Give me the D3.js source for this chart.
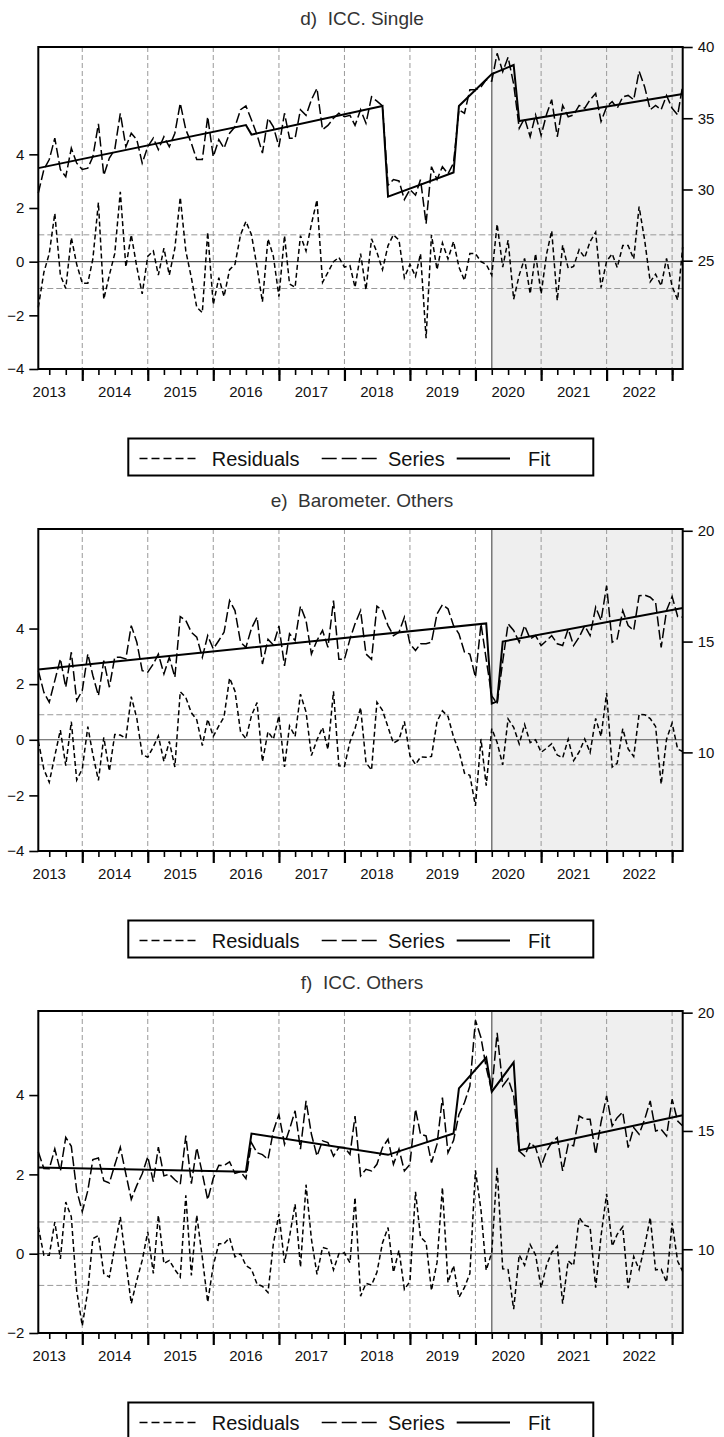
<!DOCTYPE html>
<html>
<head>
<meta charset="utf-8">
<script src="https://cdn.jsdelivr.net/npm/d3@7"></script>
<style>
  body { margin: 0; background: #fff; }
  svg { display: block; font-family: "Liberation Sans", Arial, sans-serif; }
</style>
</head>
<body>
<svg id="chart" width="724" height="1437"></svg>
<script>
// --------------- Data ---------------
// monthly observations, May 2013 .. Mar 2023
const START = new Date(2013, 4, 1);
const months = d3.timeMonth.range(START, new Date(2023, 3, 1));
const SHADE_START = new Date(2020, 3, 1);
const YEARS = d3.range(2013, 2023);

const titles = ["d)  ICC. Single", "e)  Barometer. Others", "f)  ICC. Others"];
const legendLabels = ["Residuals", "Series", "Fit"];

// d) ICC. Single
const dSeries = [29.74, 31.4, 32.1, 33.6, 31.4, 30.9, 32.9, 31.85, 31.4, 31.5,
  32.3, 34.6, 31.0, 32.2, 32.8, 35.35, 33.0, 33.95, 33.5, 31.85,
  33.0, 33.6, 32.8, 33.7, 33.0, 33.95, 36.05, 34.2, 33.25, 32.1,
  32.1, 35.1, 32.3, 33.5, 32.9, 33.95, 34.4, 35.6, 35.86, 34.88,
  33.83, 32.55, 35.0, 34.4, 33.0, 35.35, 33.6, 33.6, 35.6, 35.2,
  36.3, 37.1, 34.2, 34.5, 35.0, 35.35, 35.1, 35.2, 34.5, 35.6,
  34.65, 36.5, 36.2, 35.86, 30.3, 30.7, 30.6, 29.3, 30.0, 29.6,
  30.7, 27.6, 31.6, 30.7, 31.6, 31.1, 31.85, 35.6, 35.35, 37.0,
  37.0, 37.2, 37.7, 37.6, 39.56, 38.27, 39.28, 37.4, 34.3, 35.0,
  33.7, 35.23, 33.8, 35.3, 36.3, 33.7, 35.9, 35.1, 35.23, 35.9,
  35.7, 36.3, 36.75, 34.77, 35.8, 36.17, 35.7, 36.5, 36.6, 36.3,
  38.3, 37.2, 35.6, 35.9, 35.6, 36.6, 35.7, 35.23, 37.3];
const dResid = [-1.7, -0.4, 0.3, 1.8, -0.5, -1.0, 0.9, -0.1, -0.8, -0.8,
  0.1, 2.2, -1.4, -0.5, 0.3, 2.6, -0.2, 1.0, -0.2, -1.2,
  0.2, 0.4, -0.5, 0.5, -0.5, 0.5, 2.4, 0.4, -0.6, -1.7,
  -1.9, 1.1, -1.6, -0.6, -1.3, -0.3, -0.1, 1.0, 1.5, 1.0,
  -0.2, -1.5, 0.85, 0.2, -1.3, 0.97, -0.83, -0.96, 0.97, 0.4,
  1.4, 2.3, -0.77, -0.4, 0.0, 0.16, -0.2, -0.15, -0.96, 0.3,
  -1.05, 0.85, 0.35, -0.3, 0.6, 1.0, 0.8, -0.6, -0.1, -0.55,
  0.3, -2.85, 1.0, -0.3, 0.7, 0.1, 0.75, -0.2, -0.7, 0.3,
  0.3, 0.0, -0.1, -0.5, 1.4, -0.2, 0.8, -1.4, -0.5, 0.12,
  -1.2, 0.3, -1.2, 0.3, 1.15, -1.45, 0.62, -0.25, -0.18, 0.45,
  0.15, 0.75, 1.1, -0.97, 0.02, 0.29, -0.22, 0.6, 0.6, 0.1,
  2.05, 0.8, -0.75, -0.47, -0.9, 0.12, -0.92, -1.43, 0.55];
const dFitIdx = [0, 38, 39, 63, 64, 76, 77, 83, 87, 88, 118];
const dFitVal = [31.5, 34.52, 33.85, 35.86, 29.5, 31.19, 35.86, 38.1, 38.74, 34.8, 36.7];

// e) Barometer. Others
const eSeries = [13.69, 12.71, 12.26, 13.24, 14.22, 12.94, 14.52, 12.34, 12.79, 14.44,
  13.47, 12.56, 14.14, 12.94, 14.29, 14.29, 14.22, 15.72, 14.97, 13.69,
  13.62, 13.99, 14.44, 13.54, 14.29, 13.39, 16.13, 15.95, 15.42, 15.2,
  14.29, 15.27, 14.67, 15.05, 15.42, 16.85, 16.4, 14.97, 14.74, 15.6,
  16.1, 13.99, 15.1, 14.85, 15.7, 13.9, 15.35, 15.05, 16.6, 15.95,
  14.44, 15.05, 15.5, 14.74, 16.85, 14.2, 14.2, 15.12, 15.8, 16.4,
  14.44, 14.2, 16.6, 16.4, 15.72, 15.27, 15.42, 16.1, 14.9, 14.6,
  14.9, 14.9, 14.97, 16.25, 16.66, 16.48, 15.72, 15.35, 14.52, 14.44,
  13.39, 15.8, 14.2, 12.55, 12.2, 14.1, 15.8, 15.5, 14.97, 15.72,
  15.12, 15.27, 14.82, 15.05, 15.27, 14.9, 14.82, 15.57, 14.82, 15.2,
  15.72, 15.27, 16.55, 15.95, 17.52, 14.97, 15.12, 16.4, 15.72, 15.5,
  17.07, 17.1, 17.0, 16.77, 14.74, 16.4, 17.03, 16.13, 16.1];
const eResid = [-0.05, -1.06, -1.53, -0.58, 0.35, -0.93, 0.65, -1.45, -1.05, 0.47,
  -0.53, -1.46, 0.09, -1.13, 0.19, 0.17, 0.05, 1.55, 0.77, -0.53,
  -0.63, -0.25, 0.14, -0.78, -0.06, -0.98, 1.73, 1.52, 0.97, 0.72,
  -0.21, 0.74, 0.12, 0.5, 0.82, 2.22, 1.75, 0.29, 0.04, 0.87,
  1.34, -0.79, 0.29, 0.02, 0.86, -0.98, 0.5, 0.12, 1.64, 1.0,
  -0.57, 0.0, 0.44, -0.35, 1.74, -0.94, -0.96, -0.07, 0.4, 1.16,
  -0.82, -1.09, 1.35, 1.06, 0.45, -0.12, 0.0, 0.66, -0.57, -0.89,
  -0.62, -0.63, -0.6, 0.66, 1.04, 0.84, 0.1, -0.4, -1.2, -1.28,
  -2.38, 0.03, -1.65, 0.4, -0.1, -0.9, 0.75, 0.45, -0.15, 0.55,
  -0.1, 0.0, -0.45, -0.3, -0.14, -0.55, -0.65, 0.02, -0.75, -0.44,
  0.03, -0.46, 0.77, 0.12, 1.68, -0.98, -0.84, 0.4, -0.33, -0.6,
  0.92, 0.9, 0.76, 0.48, -1.6, 0.02, 0.6, -0.34, -0.42];
const eFitIdx = [0, 82, 83, 84, 85, 118];
const eFitVal = [13.74, 15.82, 12.2, 12.3, 15.0, 16.52];

// f) ICC. Others
const fSeries = [14.12, 13.41, 13.4, 14.24, 13.3, 14.73, 14.35, 12.49, 11.59, 12.48,
  13.79, 13.86, 12.9, 12.8, 13.56, 14.31, 13.18, 12.11, 12.7, 13.19,
  13.91, 12.86, 14.32, 13.1, 13.17, 12.94, 12.74, 14.8, 12.77, 14.29,
  13.21, 12.09, 13.0, 13.55, 13.54, 13.69, 13.21, 13.28, 12.98, 14.5,
  14.08, 14.0, 13.8, 15.0, 15.7, 14.44, 15.07, 15.85, 14.23, 16.27,
  14.86, 13.94, 14.58, 14.51, 13.94, 14.3, 14.3, 14.01, 15.63, 13.1,
  13.38, 13.31, 13.59, 14.3, 14.65, 13.59, 14.23, 13.31, 13.59, 15.92,
  14.86, 14.79, 13.66, 14.44, 16.41, 14.08, 14.6, 15.7, 16.2, 16.9,
  19.68, 18.94, 17.68, 16.69, 19.15, 16.9, 17.2, 16.5, 14.15, 13.94,
  14.51, 14.3, 13.52, 14.15, 14.51, 14.72, 13.31, 14.44, 14.37, 15.63,
  15.49, 15.49, 14.01, 15.37, 16.48, 15.21, 15.56, 15.8, 14.3, 15.14,
  14.86, 15.49, 16.27, 15.0, 15.07, 14.79, 16.34, 15.42, 15.21];
const fResid = [0.67, -0.04, -0.04, 0.8, -0.13, 1.3, 0.93, -0.93, -1.82, -0.93,
  0.38, 0.46, -0.5, -0.59, 0.17, 0.93, -0.2, -1.26, -0.67, -0.17,
  0.55, -0.5, 0.97, -0.25, -0.17, -0.4, -0.59, 1.47, -0.55, 0.97,
  -0.1, -1.22, -0.3, 0.25, 0.25, 0.4, -0.08, 0.0, -0.3, -0.39,
  -0.77, -0.82, -0.98, 0.25, 1.0, -0.23, 0.43, 1.25, -0.34, 1.74,
  0.37, -0.52, 0.16, 0.12, -0.41, 0.0, 0.02, -0.23, 1.42, -1.07,
  -0.75, -0.79, -0.47, 0.27, 0.66, -0.47, 0.09, -0.9, -0.7, 1.56,
  0.42, 0.28, -0.93, -0.22, 1.67, -0.73, -0.3, -1.1, -0.85, -0.5,
  2.1, 1.1, -0.42, 0.03, 2.18, -0.38, -0.4, -1.4, -0.03, -0.29,
  0.23, -0.03, -0.86, -0.28, 0.03, 0.19, -1.26, -0.18, -0.3, 0.91,
  0.72, 0.67, -0.86, 0.45, 1.51, 0.19, 0.49, 0.68, -0.87, -0.07,
  -0.4, 0.18, 0.91, -0.41, -0.39, -0.72, 0.78, -0.19, -0.45];
const fFitIdx = [0, 38, 39, 64, 76, 77, 82, 83, 87, 88, 118];
const fFitVal = [13.45, 13.28, 14.89, 13.99, 14.89, 16.8, 18.1, 16.66, 17.9, 14.18, 15.66];

// axis settings per panel
const leftDomains = [[-4, 8], [-4, 7.58], [-2, 6.12]];
const leftTicks = [[-4, -2, 0, 2, 4], [-4, -2, 0, 2, 4], [-2, 0, 2, 4]];
const rightDomains = [[17.4, 40], [5.55, 20.08], [6.46, 20.07]];
const rightTicks = [[25, 30, 35, 40], [10, 15, 20], [10, 15, 20]];
const seBands = [1.0, 0.9, 0.8];

// --------------- Layout ---------------
const PLOT_L = 38.3;
const PLOT_R = 682.7;
const PLOT_H = 322;
const PANEL_TOPS = [47, 529, 1011];
// legend box sits below the plot; offset is from the plot top
const LEGEND = { left: 128.3, right: 593.3, offset: 391.5, height: 37 };

const panels = [
  { series: dSeries, resid: dResid, fitIdx: dFitIdx, fitVal: dFitVal },
  { series: eSeries, resid: eResid, fitIdx: eFitIdx, fitVal: eFitVal },
  { series: fSeries, resid: fResid, fitIdx: fFitIdx, fitVal: fFitVal }
];

const svg = d3.select("#chart");
const x = d3.scaleTime()
  .domain([months[0], months[months.length - 1]])
  .range([PLOT_L, PLOT_R]);

const renderPanel = (p, k) => {
  const top = PANEL_TOPS[k];
  const bottom = top + PLOT_H;
  const yL = d3.scaleLinear().domain(leftDomains[k]).range([bottom, top]);
  const yR = d3.scaleLinear().domain(rightDomains[k]).range([bottom, top]);
  const g = svg.append("g");

  // title
  g.append("text")
    .attr("x", 362).attr("y", top - 22)
    .attr("text-anchor", "middle")
    .attr("font-size", 19).attr("fill", "#333")
    .style("white-space", "pre")
    .text(titles[k]);

  // shaded period
  g.append("rect")
    .attr("x", x(SHADE_START)).attr("y", top)
    .attr("width", PLOT_R - x(SHADE_START)).attr("height", PLOT_H)
    .attr("fill", "#efefef");

  // year separators
  d3.timeYear.range(new Date(2014, 0, 1), new Date(2023, 0, 2)).forEach((d) => {
    g.append("line")
      .attr("x1", x(d)).attr("x2", x(d))
      .attr("y1", top).attr("y2", bottom)
      .attr("stroke", "#999").attr("stroke-width", 1)
      .attr("stroke-dasharray", "5,3");
  });

  // +/- standard error lines and zero line
  [seBands[k], -seBands[k]].forEach((v) => {
    g.append("line")
      .attr("x1", PLOT_L).attr("x2", PLOT_R)
      .attr("y1", yL(v)).attr("y2", yL(v))
      .attr("stroke", "#999").attr("stroke-width", 1)
      .attr("stroke-dasharray", "6,3");
  });
  g.append("line")
    .attr("x1", PLOT_L).attr("x2", PLOT_R)
    .attr("y1", yL(0)).attr("y2", yL(0))
    .attr("stroke", "#555").attr("stroke-width", 1.2);

  g.append("line")
    .attr("x1", x(SHADE_START)).attr("x2", x(SHADE_START))
    .attr("y1", top).attr("y2", bottom)
    .attr("stroke", "#777").attr("stroke-width", 1.5);

  // residuals (left axis)
  g.append("path")
    .datum(p.resid)
    .attr("fill", "none").attr("stroke", "#000").attr("stroke-width", 1.5)
    .attr("stroke-dasharray", "5,3")
    .attr("d", d3.line().x((d, i) => x(months[i])).y((d) => yL(d)));

  // series (right axis)
  g.append("path")
    .datum(p.series)
    .attr("fill", "none").attr("stroke", "#000").attr("stroke-width", 1.5)
    .attr("stroke-dasharray", "10,3.5")
    .attr("d", d3.line().x((d, i) => x(months[i])).y((d) => yR(d)));

  // fit (right axis)
  g.append("path")
    .datum(p.fitIdx.map((idx, j) => ({ date: months[idx], v: p.fitVal[j] })))
    .attr("fill", "none").attr("stroke", "#000").attr("stroke-width", 2)
    .attr("d", d3.line().x((d) => x(d.date)).y((d) => yR(d.v)));

  // frame
  g.append("rect")
    .attr("x", PLOT_L).attr("y", top)
    .attr("width", PLOT_R - PLOT_L).attr("height", PLOT_H)
    .attr("fill", "none").attr("stroke", "#000").attr("stroke-width", 2);

  // left axis
  const left = g.append("g")
    .attr("transform", `translate(${PLOT_L},0)`)
    .call(d3.axisLeft(yL).tickValues(leftTicks[k]).tickSize(9).tickPadding(5)
      .tickFormat(d3.format("d")));
  // right axis
  const right = g.append("g")
    .attr("transform", `translate(${PLOT_R},0)`)
    .call(d3.axisRight(yR).tickValues(rightTicks[k]).tickSize(10).tickPadding(5)
      .tickFormat(d3.format("d")));
  // bottom: quarterly minor ticks, yearly major ticks
  const minor = g.append("g")
    .attr("transform", `translate(0,${bottom})`)
    .call(d3.axisBottom(x).tickValues(d3.timeMonth.every(3).range(months[0], months[months.length - 1]))
      .tickSize(6).tickFormat(""));
  const major = g.append("g")
    .attr("transform", `translate(0,${bottom})`)
    .call(d3.axisBottom(x).tickValues(d3.timeYear.range(new Date(2014, 0, 1), new Date(2023, 0, 2)))
      .tickSize(12).tickFormat(""));

  [left, right, minor, major].forEach((a) => {
    a.select(".domain").remove();
    a.selectAll(".tick line").attr("stroke", "#000").attr("stroke-width", 1.6);
    a.selectAll(".tick text").attr("font-size", 15).attr("fill", "#111")
      .attr("font-family", "Liberation Sans, Arial, sans-serif");
  });
  major.selectAll(".tick line").attr("stroke-width", 2.2);

  // year labels at mid-year
  YEARS.forEach((yr) => {
    g.append("text")
      .attr("x", x(new Date(yr, 6, 1))).attr("y", bottom + 28)
      .attr("text-anchor", "middle")
      .attr("font-size", 15).attr("fill", "#111")
      .text(yr);
  });

  // legend
  const ly = top + LEGEND.offset;
  const cy = ly + 20;
  const lg = g.append("g");
  lg.append("rect")
    .attr("x", LEGEND.left).attr("y", ly)
    .attr("width", LEGEND.right - LEGEND.left).attr("height", LEGEND.height)
    .attr("fill", "#fff").attr("stroke", "#000").attr("stroke-width", 2);
  const samples = [
    { x1: 139.5, x2: 197.5, dash: "8,4", w: 1.6, tx: 211.7 },
    { x1: 321.7, x2: 376.7, dash: "15,5", w: 1.6, tx: 388 },
    { x1: 456.7, x2: 510, dash: null, w: 1.8, tx: 528 }
  ];
  samples.forEach((s, j) => {
    lg.append("line")
      .attr("x1", s.x1).attr("x2", s.x2).attr("y1", cy).attr("y2", cy)
      .attr("stroke", "#000").attr("stroke-width", s.w)
      .attr("stroke-dasharray", s.dash);
    lg.append("text")
      .attr("x", s.tx).attr("y", cy + 7)
      .attr("font-size", 20).attr("fill", "#111")
      .text(legendLabels[j]);
  });
};

panels.forEach(renderPanel);
</script>
</body>
</html>
